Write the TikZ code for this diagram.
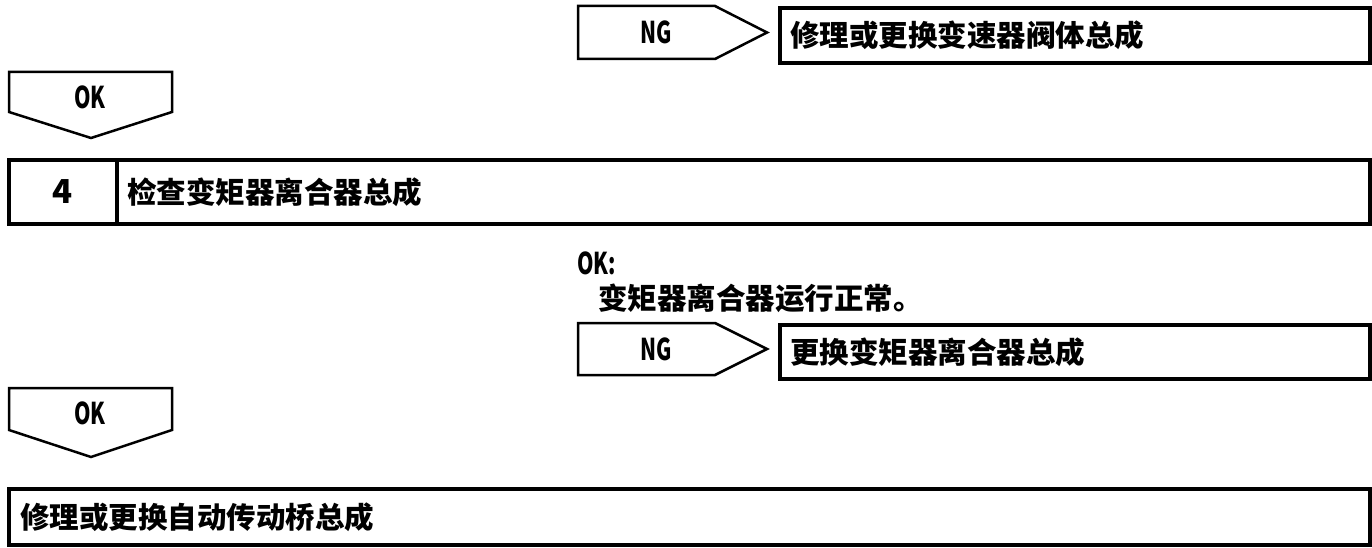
\documentclass[tikz,border=0pt]{standalone}
\usepackage{fontspec}
\newfontfamily\zhfont{Noto Sans CJK SC}
\newfontfamily\latfont[FakeStretch=0.7]{Noto Sans CJK SC}
\begin{document}
\begin{tikzpicture}[x=1pt,y=-1pt]
\tikzset{
  frame/.style={draw=black, line width=3.5pt, line join=miter},
  tag/.style={draw=black, line width=2.5pt, line join=miter},
  lbl/.style={font=\latfont\bfseries\fontsize{30}{34}\selectfont, inner sep=0pt},
  txt/.style={font=\zhfont\bfseries\fontsize{29.5}{34}\selectfont, inner sep=0pt, anchor=west},
}
\useasboundingbox (0,0) rectangle (1372,548);
% NG 1
\draw[tag] (578,6) -- (715,6) -- (767,32.5) -- (715,59) -- (578,59) -- cycle;
\node[lbl] (ng1) at (656,32.5) {NG};
\draw[frame] (780,8) rectangle (1370,63);
\node[txt] (t1) at (790,35.5) {修理或更换变速器阀体总成};
% OK 1
\draw[tag] (9,72) -- (172,72) -- (172,112) -- (91,138) -- (9,112) -- cycle;
\node[lbl] (ok1) at (90,97) {OK};
% step 4
\draw[frame] (9,160) rectangle (1370,224);
\draw[frame] (117,160) -- (117,224);
\node[lbl, font=\zhfont\bfseries\fontsize{33}{36}\selectfont] (n4) at (63,192) {4};
\node[txt] (t4) at (127,192) {检查变矩器离合器总成};
% OK condition
\node[lbl, anchor=west] (okc) at (577,263) {OK:};
\node[txt] (okt) at (598,298) {变矩器离合器运行正常。};
% NG 2
\draw[tag] (578,323) -- (715,323) -- (767,349) -- (715,375) -- (578,375) -- cycle;
\node[lbl] (ng2) at (656,349) {NG};
\draw[frame] (780,325) rectangle (1370,379);
\node[txt] (t2) at (790,352) {更换变矩器离合器总成};
% OK 2
\draw[tag] (9,388) -- (172,388) -- (172,430) -- (91,457) -- (9,430) -- cycle;
\node[lbl] (ok2) at (90,413) {OK};
% final
\draw[frame] (9,489) rectangle (1370,545);
\node[txt] (t3) at (20,517) {修理或更换自动传动桥总成};
\end{tikzpicture}
\end{document}
